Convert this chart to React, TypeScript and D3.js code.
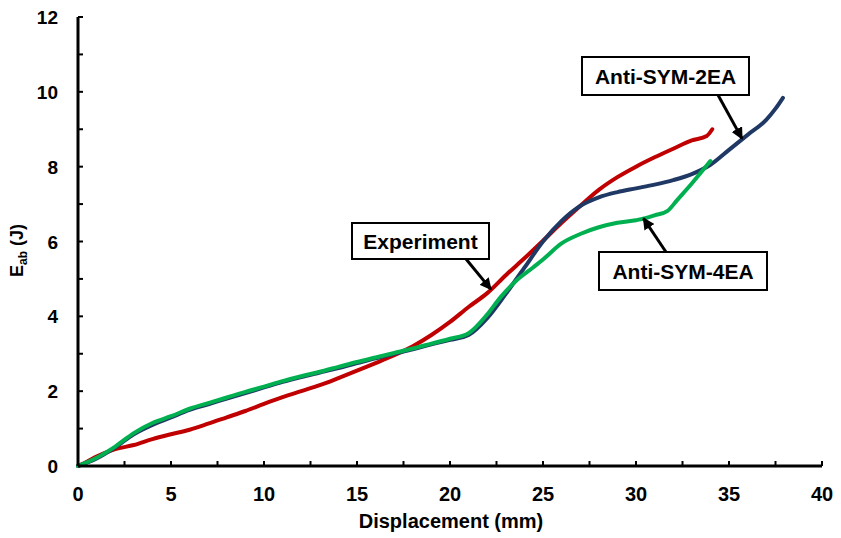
import React from 'react';
import * as d3 from 'd3';

// displacement (mm) / absorbed energy (J)
const expX = [0, 0.5, 1, 2, 3, 4, 5, 6, 7, 8, 9, 10, 11, 12, 13, 14, 15, 16, 17, 18, 19, 20, 21, 22, 23, 24, 25, 26, 27, 28, 29, 30, 31, 32, 33, 33.8, 34.1];
const expY = [0, 0.12, 0.25, 0.45, 0.56, 0.72, 0.85, 0.97, 1.13, 1.3, 1.47, 1.66, 1.84, 2.0, 2.16, 2.35, 2.55, 2.75, 2.96, 3.2, 3.5, 3.85, 4.25, 4.62, 5.1, 5.55, 6.02, 6.5, 6.95, 7.38, 7.72, 8.0, 8.25, 8.48, 8.7, 8.82, 9.0];

const sym2X = [0, 1, 2, 3, 4, 5, 6, 7, 8, 9, 10, 11, 12, 13, 14, 15, 16, 17, 18, 19, 20, 21, 22, 23, 24, 25, 26, 27, 28, 29, 30, 31, 32, 33, 34, 35, 36, 37, 37.5, 37.9];
const sym2Y = [0, 0.2, 0.5, 0.85, 1.1, 1.3, 1.5, 1.65, 1.8, 1.95, 2.1, 2.25, 2.38, 2.5, 2.62, 2.75, 2.88, 3.0, 3.12, 3.25, 3.37, 3.5, 3.95, 4.6, 5.3, 6.0, 6.55, 6.95, 7.18, 7.32, 7.42, 7.52, 7.64, 7.8, 8.05, 8.45, 8.85, 9.25, 9.55, 9.84];

const sym4X = [0, 1, 2, 3, 4, 5, 6, 7, 8, 9, 10, 11, 12, 13, 14, 15, 16, 17, 18, 19, 20, 21, 22, 22.7, 23.6, 24.5, 25, 26, 27, 28, 29, 30, 30.5, 31, 31.7, 32.2, 33, 34];
const sym4Y = [0, 0.22, 0.52, 0.88, 1.15, 1.33, 1.53, 1.68, 1.83, 1.98, 2.12, 2.27, 2.4, 2.52, 2.65, 2.78, 2.9, 3.02, 3.14, 3.27, 3.4, 3.55, 4.05, 4.5, 4.97, 5.32, 5.52, 5.95, 6.2, 6.38, 6.5, 6.57, 6.62, 6.7, 6.82, 7.1, 7.55, 8.15];

const xTicks = [0, 5, 10, 15, 20, 25, 30, 35, 40];
const yTicks = [0, 2, 4, 6, 8, 10, 12];

const series = [
  { name: 'Experiment', xs: expX, ys: expY, color: '#C00000' },
  { name: 'Anti-SYM-2EA', xs: sym2X, ys: sym2Y, color: '#1F3864' },
  { name: 'Anti-SYM-4EA', xs: sym4X, ys: sym4Y, color: '#00B050' },
];

const W = 841;
const H = 538;
const margin = { left: 78, right: 19, top: 17, bottom: 72 };

export default function App() {
  const x = d3.scaleLinear().domain([0, 40]).range([margin.left, W - margin.right]);
  const y = d3.scaleLinear().domain([0, 12]).range([H - margin.bottom, margin.top]);

  const line = d3.line<[number, number]>()
    .x(d => x(d[0]))
    .y(d => y(d[1]))
    .curve(d3.curveMonotoneX);

  const font = '"Liberation Sans", Arial, sans-serif';

  const minorX = d3.range(2.5, 40.01, 2.5);
  const minorY = d3.range(1, 12.01, 1);

  // annotation boxes, arrow goes from the box edge to a point on the curve (data coords)
  const notes = [
    { label: 'Experiment', bx: 352, by: 223, bw: 137, bh: 36, from: [466, 259], to: [22.2, 4.72] },
    { label: 'Anti-SYM-2EA', bx: 582, by: 57, bw: 167, bh: 38, from: [718, 95], to: [35.7, 8.75] },
    { label: 'Anti-SYM-4EA', bx: 599, by: 252, bw: 168, bh: 38, from: [666, 252], to: [30.4, 6.62] },
  ];

  return (
    <svg width={W} height={H} style={{ position: 'fixed', left: 0, top: 0, background: '#fff' }}>
      <defs>
        <marker id="arr" viewBox="0 0 10 10" refX="9" refY="5" markerWidth="4" markerHeight="4" orient="auto">
          <path d="M0,0 L10,5 L0,10 z" fill="#000" />
        </marker>
      </defs>

      {/* series */}
      {series.map(s => (
        <path
          key={s.name}
          d={line(s.xs.map((v, i) => [v, s.ys[i]] as [number, number])) || ''}
          fill="none"
          stroke={s.color}
          strokeWidth={4}
          strokeLinejoin="round"
          strokeLinecap="round"
        />
      ))}

      {/* axes */}
      <line x1={x(0)} x2={x(40)} y1={y(0)} y2={y(0)} stroke="#000" strokeWidth={3} />
      <line x1={x(0)} x2={x(0)} y1={y(0)} y2={y(12)} stroke="#000" strokeWidth={3} />
      {minorX.map(t => (
        <line key={'mx' + t} x1={x(t)} x2={x(t)} y1={y(0)} y2={y(0) - 5} stroke="#000" strokeWidth={2} />
      ))}
      {minorY.map(t => (
        <line key={'my' + t} x1={x(0)} x2={x(0) + 5} y1={y(t)} y2={y(t)} stroke="#000" strokeWidth={2} />
      ))}
      {xTicks.map(t => (
        <text key={'xt' + t} x={x(t)} y={y(0) + 35} textAnchor="middle" fontFamily={font} fontWeight="bold" fontSize={20}>
          {t}
        </text>
      ))}
      {yTicks.map(t => (
        <text key={'yt' + t} x={58} y={y(t) + 7} textAnchor="end" fontFamily={font} fontWeight="bold" fontSize={19}>
          {t}
        </text>
      ))}

      <text x={451} y={528} textAnchor="middle" fontFamily={font} fontWeight="bold" fontSize={20}>
        Displacement (mm)
      </text>
      <text transform={`translate(23,${y(6) + 9}) rotate(-90)`} textAnchor="middle" fontFamily={font} fontWeight="bold" fontSize={18}>
        E<tspan fontSize={12} dy={4}>ab</tspan><tspan dy={-4}> (J)</tspan>
      </text>

      {/* annotations */}
      {notes.map(n => (
        <g key={n.label}>
          <rect x={n.bx} y={n.by} width={n.bw} height={n.bh} fill="#fff" stroke="#000" strokeWidth={2} />
          <text x={n.bx + n.bw / 2} y={n.by + n.bh / 2 + 7.5} textAnchor="middle" fontFamily={font} fontWeight="bold" fontSize={21}>
            {n.label}
          </text>
          <line x1={n.from[0]} y1={n.from[1]} x2={x(n.to[0])} y2={y(n.to[1])} stroke="#000" strokeWidth={3} markerEnd="url(#arr)" />
        </g>
      ))}
    </svg>
  );
}
